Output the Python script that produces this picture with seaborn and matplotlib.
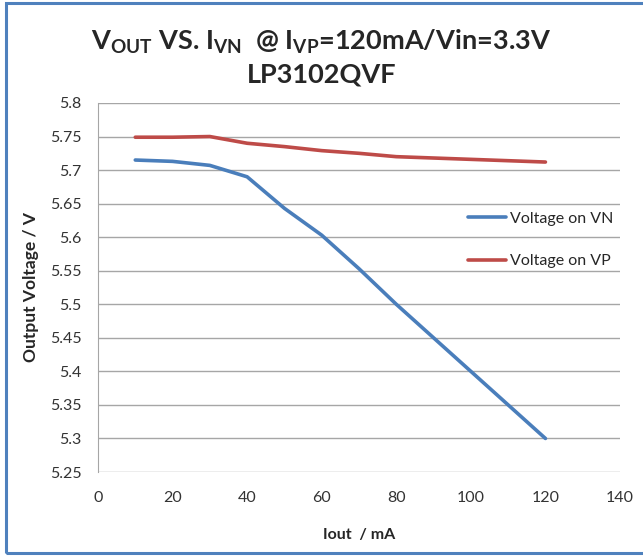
import pandas as pd
import matplotlib.pyplot as plt
import seaborn as sns
from matplotlib.patches import Rectangle

iout = [10, 20, 30, 40, 50, 60, 70, 80, 90, 100, 110, 120]
v_vn = [5.715, 5.713, 5.707, 5.690, 5.643, 5.603, 5.553, 5.500, 5.450, 5.400, 5.350, 5.300]
v_vp = [5.749, 5.749, 5.750, 5.740, 5.735, 5.729, 5.725, 5.720, 5.718, 5.716, 5.714, 5.712]
series = ['Voltage on VN', 'Voltage on VP']
colors = ['#4A7EBB', '#BE4B48']

df = pd.concat([
    pd.DataFrame({'Iout': iout, 'Voltage': v_vn, 'Series': series[0]}),
    pd.DataFrame({'Iout': iout, 'Voltage': v_vp, 'Series': series[1]}),
])

sns.set_style('white')
plt.rcParams['font.family'] = ['Lato', 'DejaVu Sans']
plt.rcParams['mathtext.default'] = 'regular'

fig = plt.figure(figsize=(6.43, 5.56), dpi=100)
ax = fig.add_axes([98 / 643, 1 - 472 / 556, 522 / 643, 369 / 556])

sns.lineplot(data=df, x='Iout', y='Voltage', hue='Series', palette=colors,
             linewidth=2.6, ax=ax)

ax.set_xlim(0, 140)
ax.set_ylim(5.25, 5.8)
ax.set_xticks(range(0, 141, 20))
ax.set_yticks([5.25 + 0.05 * i for i in range(12)])
ax.set_yticklabels(['5.25', '5.3', '5.35', '5.4', '5.45', '5.5', '5.55', '5.6',
                    '5.65', '5.7', '5.75', '5.8'])
ax.yaxis.grid(True, color='#A6A6A6', linewidth=1)
ax.set_axisbelow(True)
for s in ['top', 'right', 'bottom']:
    ax.spines[s].set_visible(False)
ax.spines['left'].set_color('#A6A6A6')
ax.tick_params(axis='both', length=0, labelsize=11.5, labelcolor='#333333')
ax.tick_params(axis='x', pad=14)
ax.tick_params(axis='y', pad=12)

ax.set_xlabel('Iout  / mA', fontsize=11.5, fontweight='bold', labelpad=16)
ax.set_ylabel('Output Voltage / V', fontsize=12.5, fontweight='bold', labelpad=8)

leg = ax.legend(frameon=False, fontsize=11.5, loc='center left',
                bbox_to_anchor=(0.709, 0.629), borderaxespad=0, borderpad=0,
                handlelength=2.4, handletextpad=0.2, labelspacing=1.8)
for h in leg.get_lines():
    h.set_linewidth(2.6)

fig.text(0.5, 1 - 42 / 556, r'V$_{OUT}$ VS. I$_{VN}$  @ I$_{VP}$=120mA/Vin=3.3V',
         ha='center', va='center', fontsize=19.5, fontweight='bold')
fig.text(0.5, 1 - 75 / 556, 'LP3102QVF', ha='center', va='center',
         fontsize=19.5, fontweight='bold')

fig.patches.append(Rectangle((6 / 643, 3 / 556), 1.2, 550 / 556, transform=fig.transFigure,
                             fill=False, edgecolor='#4F81BD', linewidth=2.2))

fig.savefig('out.png', dpi=100)
